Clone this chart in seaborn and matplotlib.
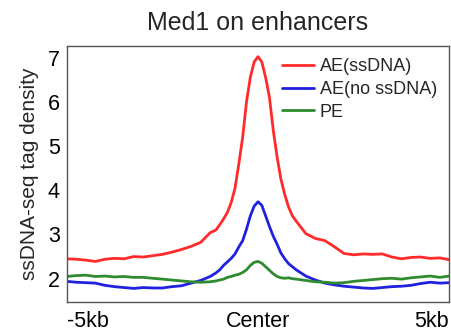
import numpy as np
import pandas as pd
import matplotlib
matplotlib.use("Agg")
import matplotlib.pyplot as plt
import seaborn as sns

positions = [-5000, -4750, -4500, -4250, -4000, -3750, -3500, -3250, -3000, -2750,
             -2500, -2250, -2000, -1750, -1500, -1250, -1100, -1000, -900, -800,
             -700, -600, -500, -400, -300, -200, -100, 0, 100, 200,
             300, 400, 500, 600, 700, 800, 900, 1000, 1250, 1500,
             1750, 2000, 2250, 2500, 2750, 3000, 3250, 3500, 3750, 4000,
             4250, 4500, 4750, 5000]

ae_ssdna = [2.45, 2.44, 2.42, 2.39, 2.44, 2.46, 2.45, 2.50, 2.49, 2.52,
            2.55, 2.60, 2.66, 2.73, 2.82, 3.04, 3.10, 3.22, 3.35, 3.50,
            3.72, 4.05, 4.60, 5.20, 6.00, 6.55, 6.90, 7.02, 6.90, 6.55,
            6.10, 5.35, 4.75, 4.25, 3.90, 3.62, 3.42, 3.30, 3.02, 2.91,
            2.86, 2.72, 2.57, 2.54, 2.56, 2.55, 2.56, 2.49, 2.45, 2.48,
            2.49, 2.46, 2.47, 2.43]

ae_no_ssdna = [1.94, 1.92, 1.91, 1.90, 1.85, 1.82, 1.80, 1.78, 1.80, 1.79,
               1.79, 1.82, 1.84, 1.90, 1.96, 2.05, 2.13, 2.20, 2.30, 2.38,
               2.46, 2.56, 2.72, 2.86, 3.12, 3.42, 3.64, 3.74, 3.66, 3.42,
               3.18, 2.96, 2.78, 2.58, 2.45, 2.34, 2.27, 2.20, 2.06, 1.97,
               1.90, 1.86, 1.83, 1.81, 1.79, 1.78, 1.80, 1.82, 1.83, 1.85,
               1.89, 1.92, 1.90, 1.91]

pe = [2.05, 2.07, 2.08, 2.05, 2.06, 2.04, 2.05, 2.03, 2.03, 2.01,
      1.99, 1.97, 1.95, 1.93, 1.92, 1.93, 1.95, 1.97, 1.99, 2.03,
      2.05, 2.08, 2.10, 2.14, 2.20, 2.30, 2.37, 2.39, 2.35, 2.27,
      2.19, 2.11, 2.05, 2.02, 2.01, 2.02, 2.00, 1.99, 1.96, 1.93,
      1.92, 1.90, 1.91, 1.94, 1.96, 1.98, 2.00, 2.01, 1.99, 2.02,
      2.04, 2.06, 2.03, 2.06]

series_names = ["AE(ssDNA)", "AE(no ssDNA)", "PE"]
series_colors = ["#ff2a2a", "#2020e0", "#2e8b2e"]
x_ticks = [-5000, 0, 5000]
x_tick_labels = ["-5kb", "Center", "5kb"]
y_ticks = [2, 3, 4, 5, 6, 7]

df = pd.DataFrame({
    "pos": positions * 3,
    "density": ae_ssdna + ae_no_ssdna + pe,
    "group": [series_names[0]] * len(positions) + [series_names[1]] * len(positions) + [series_names[2]] * len(positions),
})

sns.set_theme(style="white")
plt.rcParams["font.family"] = ["Liberation Sans", "DejaVu Sans"]

fig = plt.figure(figsize=(4.52, 3.33), dpi=100)
ax = fig.add_axes([0.1475, 0.094, 0.8465, 0.769])

sns.lineplot(data=df, x="pos", y="density", hue="group", hue_order=series_names,
             palette=dict(zip(series_names, series_colors)), linewidth=2.0, ax=ax)

ax.set_xlim(-5000, 5000)
ax.set_ylim(1.48, 7.27)
ax.set_xticks(x_ticks)
ax.set_xticklabels(x_tick_labels, fontsize=15.5)
ax.set_yticks(y_ticks)
ax.set_yticklabels([str(v) for v in y_ticks], fontsize=15.5)
tl = ax.get_xticklabels()
tl[0].set_ha("left")
tl[2].set_ha("right")
ax.set_xlabel("")
ax.set_ylabel("ssDNA-seq tag density", fontsize=15, labelpad=6)
ax.set_title("Med1 on enhancers", fontsize=18, pad=11)

for s in ax.spines.values():
    s.set_color("#555555")
    s.set_linewidth(1.0)
ax.tick_params(axis="both", which="both", direction="out", length=3, width=1,
               color="#555555", labelcolor="black", pad=2)
ax.tick_params(axis="x", pad=4)

leg = ax.legend(loc="upper left", bbox_to_anchor=(0.53, 1.0), frameon=False,
                fontsize=13, handlelength=1.75, handletextpad=0.33,
                labelspacing=0.32, borderaxespad=0.3)
for line in leg.get_lines():
    line.set_linewidth(2.0)

fig.savefig("out.png", dpi=100)
